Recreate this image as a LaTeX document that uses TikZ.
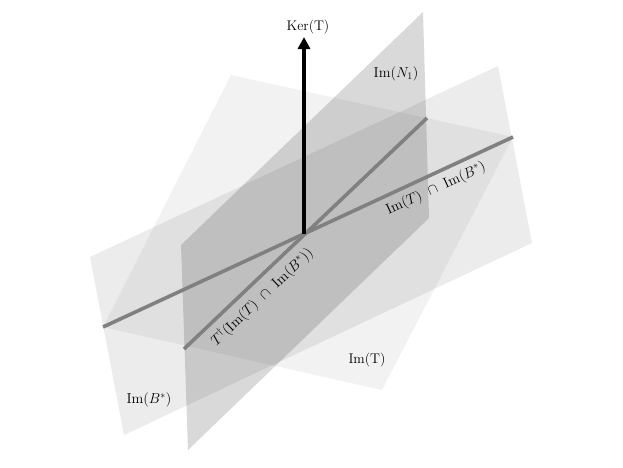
\documentclass[tikz,border=0pt]{standalone}
\usetikzlibrary{arrows.meta}
\begin{document}
\begin{tikzpicture}[x=1pt,y=-1pt,
  plane/.style={fill=black,draw=none},
  isect/.style={draw=black!50,line width=3.6pt},
  lbl/.style={font=\fontsize{14}{16}\selectfont,inner sep=1pt}]
\useasboundingbox (0,0) rectangle (623,467);
% planes
\fill[plane,fill opacity=0.075] (90,257) -- (498,66) -- (532,243) -- (124,435) -- cycle;
\fill[plane,fill opacity=0.05] (231,75) -- (513,137) -- (382,390) -- (103,327) -- cycle;
\fill[plane,fill opacity=0.15] (181,245) -- (423,12) -- (429,218) -- (188,450) -- cycle;
% coordinates
\coordinate (O) at (304,234);
\coordinate (L1a) at (103,327);
\coordinate (L1b) at (513,137);
\coordinate (L2a) at (184,349);
\coordinate (L2b) at (427,118);
\coordinate (K) at (304,37);
% intersection lines
\draw[isect] (L1a) -- (L1b);
\draw[isect] (L2a) -- (L2b);
% kernel arrow
\draw[line width=3.6pt,-{Triangle[length=12pt,width=12pt]}] (O) -- (K);
% labels
\node[lbl] (ker) at (308,27) {Ker(T)};
\node[lbl] (n1) at (396,74) {$\mathrm{Im}(N_1)$};
\node[lbl] (imt) at (367,360) {Im(T)};
\node[lbl] (imb) at (149,400) {$\mathrm{Im}(B^{*})$};
\node[lbl,rotate=24.9] (lab1) at (436,189) {$\mathrm{Im}(T)\ \cap\ \mathrm{Im}(B^{*})$};
\node[lbl,rotate=43.6] (lab2) at (262,297) {$T^{\dagger}(\mathrm{Im}(T)\ \cap\ \mathrm{Im}(B^{*}))$};
\end{tikzpicture}
\end{document}
